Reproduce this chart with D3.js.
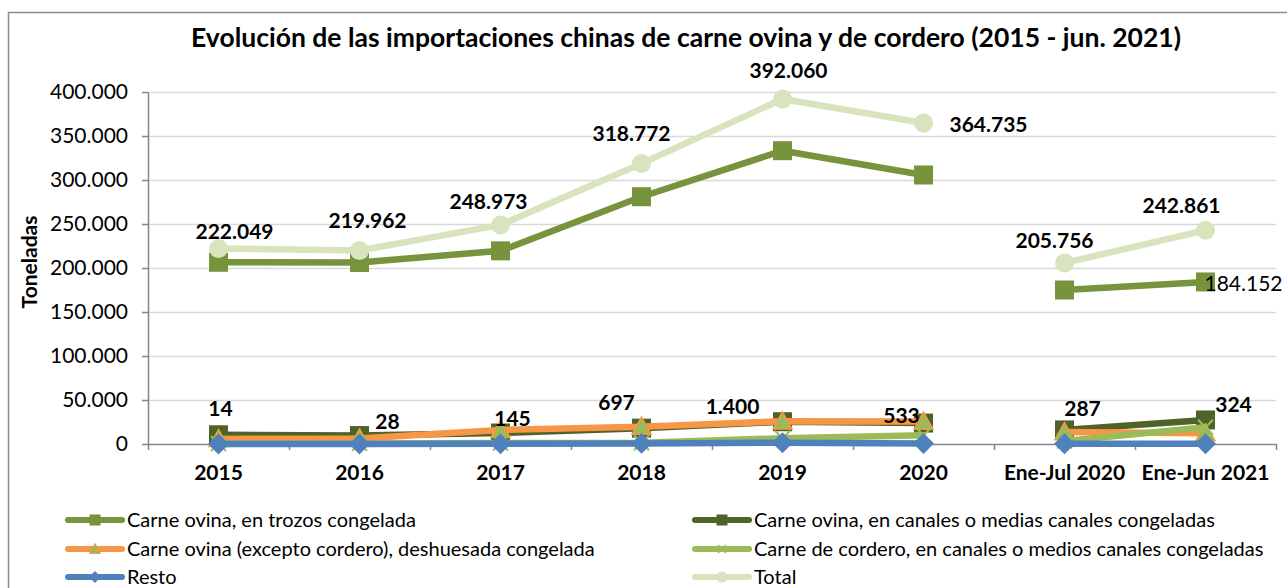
<!DOCTYPE html>
<html>
<head>
<meta charset="utf-8">
<script src="https://cdn.jsdelivr.net/npm/d3@7"></script>
<style>
  body { margin: 0; background: #ffffff; }
  svg { display: block; font-family: Lato, "Open Sans", sans-serif; }
</style>
</head>
<body>
<div id="chart"></div>
<script>
// Categories and series (toneladas)
const categories = ['2015', '2016', '2017', '2018', '2019', '2020', 'Ene-Jul 2020', 'Ene-Jun 2021'];
const segmentBreak = 6; // line is not joined between 2020 and Ene-Jul 2020

const trozos = [206500, 206300, 219500, 281000, 333300, 305700, 175000, 184152];
const canalesOvina = [10500, 9600, 12500, 18000, 25300, 23800, 16000, 27300];
const deshuesada = [5700, 6300, 16000, 19700, 25800, 25500, 13500, 12200];
const cordero = [600, 700, 1000, 1500, 6500, 10000, 3500, 19000];
const resto = [14, 28, 145, 697, 1400, 533, 287, 324];
const total = [222049, 219962, 248973, 318772, 392060, 364735, 205756, 242861];

const yTicks = [0, 50000, 100000, 150000, 200000, 250000, 300000, 350000, 400000];

// label placement relative to the point (px)
const totalLabelOffset = [[16, -17], [8, -30], [-12, -23], [-10, -30], [6, -28], [65, 2], [-10, -22], [-24, -25]];
const restoLabelOffset = [[2, -35], [28, -22], [12, -25], [-25, -41], [-50, -36], [-22, -28], [18, -35], [28, -39]];

const series = [
  { name: 'Carne ovina, en trozos congelada', values: trozos, color: '#77933C', marker: 'square', fill: '#77933C', stroke: null },
  { name: 'Carne ovina, en canales o medias canales congeladas', values: canalesOvina, color: '#4F6228', marker: 'square', fill: '#4F6228', stroke: null },
  { name: 'Carne ovina (excepto cordero), deshuesada congelada', values: deshuesada, color: '#F79646', marker: 'triangle', fill: '#9BBB59', stroke: '#F79646' },
  { name: 'Carne de cordero, en canales o medios canales congeladas', values: cordero, color: '#9BBB59', marker: 'x', fill: 'none', stroke: '#9BBB59' },
  { name: 'Resto', values: resto, color: '#4F81BD', marker: 'diamond', fill: '#4F81BD', stroke: null },
  { name: 'Total', values: total, color: '#D7E4BD', marker: 'circle', fill: '#D7E4BD', stroke: null }
];

const W = 1287, H = 588;
const plot = { left: 148, right: 1276, top: 92, bottom: 444 };
const fmt = d3.formatLocale({ decimal: ',', thousands: '.', grouping: [3], currency: ['', ''] }).format(',');

const svg = d3.select('#chart').append('svg')
  .attr('width', W)
  .attr('height', H);

// chart area border
svg.append('rect')
  .attr('x', 8.5).attr('y', 12.5)
  .attr('width', W + 10).attr('height', H + 10)
  .attr('fill', '#ffffff')
  .attr('stroke', '#8c8c8c')
  .attr('stroke-width', 1.5);

// Title
svg.append('text')
  .attr('x', 686)
  .attr('y', 47)
  .attr('text-anchor', 'middle')
  .attr('font-size', '26.5px')
  .attr('font-weight', 'bold')
  .attr('fill', '#000')
  .text('Evolución de las importaciones chinas de carne ovina y de cordero (2015 - jun. 2021)');

// Scales
const x = d3.scaleBand()
  .domain(categories)
  .range([plot.left, plot.right])
  .padding(0);
const cx = d => x(d) + x.bandwidth() / 2;

const y = d3.scaleLinear()
  .domain([0, 400000])
  .range([plot.bottom, plot.top]);

// Horizontal gridlines
svg.append('g')
  .attr('class', 'grid')
  .attr('transform', `translate(${plot.left},0)`)
  .call(d3.axisLeft(y)
    .tickValues(yTicks.slice(1))
    .tickSize(-(plot.right - plot.left))
    .tickFormat(''))
  .call(g => g.select('.domain').remove())
  .selectAll('line')
  .attr('stroke', '#d9d9d9')
  .attr('stroke-width', 1.5);

// Y axis
const yAxis = svg.append('g')
  .attr('class', 'y-axis')
  .attr('transform', `translate(${plot.left},0)`)
  .call(d3.axisLeft(y)
    .tickValues(yTicks)
    .tickSize(6)
    .tickSizeOuter(0)
    .tickPadding(14)
    .tickFormat(fmt));
yAxis.select('.domain').attr('stroke', '#868686').attr('stroke-width', 1.5);
yAxis.selectAll('.tick line').attr('stroke', '#868686').attr('stroke-width', 1.5);
yAxis.selectAll('.tick text')
  .attr('font-size', '21px')
  .attr('fill', '#000')
  .attr('font-family', 'Lato, sans-serif');

// Y axis title
svg.append('text')
  .attr('transform', 'translate(37,262) rotate(-90)')
  .attr('text-anchor', 'middle')
  .attr('font-size', '21px')
  .attr('font-weight', 'bold')
  .text('Toneladas');

// X axis: labels at category centres, ticks at category boundaries
const xIdx = d3.scaleLinear().domain([0, categories.length]).range([plot.left, plot.right]);
const xTicks = svg.append('g')
  .attr('transform', `translate(0,${plot.bottom})`)
  .call(d3.axisBottom(xIdx)
    .tickValues(d3.range(0, categories.length + 1))
    .tickSize(6)
    .tickSizeOuter(0)
    .tickFormat(''));
xTicks.select('.domain').attr('stroke', '#868686').attr('stroke-width', 1.5);
xTicks.selectAll('.tick line').attr('stroke', '#868686').attr('stroke-width', 1.5);

const xAxis = svg.append('g')
  .attr('transform', `translate(0,${plot.bottom})`)
  .call(d3.axisBottom(x).tickSize(0).tickPadding(21));
xAxis.select('.domain').remove();
xAxis.selectAll('.tick text')
  .attr('font-size', '21px')
  .attr('font-weight', 'bold')
  .attr('fill', '#000')
  .attr('font-family', 'Lato, sans-serif');

// Marker drawing
function drawMarker(g, type, s, fill, stroke, sw) {
  const h = s / 2;
  let p;
  if (type === 'square') {
    p = g.append('rect').attr('x', -h).attr('y', -h).attr('width', s).attr('height', s);
  } else if (type === 'circle') {
    p = g.append('circle').attr('r', h);
  } else if (type === 'diamond') {
    p = g.append('path').attr('d', `M0,${-h * 1.1}L${h * 1.1},0L0,${h * 1.1}L${-h * 1.1},0Z`);
  } else if (type === 'triangle') {
    p = g.append('path').attr('d', `M0,${-h}L${h},${h * 0.8}L${-h},${h * 0.8}Z`);
  } else if (type === 'x') {
    p = g.append('path').attr('d', `M${-h},${-h}L${h},${h}M${h},${-h}L${-h},${h}`);
  }
  p.attr('fill', fill || 'none');
  if (stroke) p.attr('stroke', stroke).attr('stroke-width', sw);
}

const line = d3.line()
  .x(d => d.x)
  .y(d => d.y);

const seriesG = svg.append('g').attr('class', 'series');
series.forEach(s => {
  const pts = s.values.map((v, i) => ({ x: cx(categories[i]), y: y(v) }));
  const g = seriesG.append('g');
  [pts.slice(0, segmentBreak), pts.slice(segmentBreak)].forEach(seg => {
    g.append('path')
      .attr('d', line(seg))
      .attr('fill', 'none')
      .attr('stroke', s.color)
      .attr('stroke-width', 6.5)
      .attr('stroke-linejoin', 'round');
  });
  pts.forEach(p => {
    const m = g.append('g').attr('transform', `translate(${p.x},${p.y})`);
    const size = s.marker === 'x' ? 15 : 19;
    drawMarker(m, s.marker, size, s.fill, s.stroke, s.marker === 'x' ? 2 : 1.5);
  });
});

// Data labels
const labels = svg.append('g')
  .attr('font-size', '21px')
  .attr('font-weight', 'bold')
  .attr('fill', '#000')
  .attr('text-anchor', 'middle');

total.forEach((v, i) => {
  labels.append('text')
    .attr('x', cx(categories[i]) + totalLabelOffset[i][0])
    .attr('y', y(v) + totalLabelOffset[i][1])
    .attr('dy', '0.35em')
    .text(fmt(v));
});

resto.forEach((v, i) => {
  labels.append('text')
    .attr('x', cx(categories[i]) + restoLabelOffset[i][0])
    .attr('y', y(v) + restoLabelOffset[i][1])
    .attr('dy', '0.35em')
    .text(fmt(v));
});

// single label on the trozos series (last point, regular weight)
const last = trozos.length - 1;
svg.append('text')
  .attr('x', cx(categories[last]) + 38)
  .attr('y', y(trozos[last]) + 2)
  .attr('dy', '0.35em')
  .attr('text-anchor', 'middle')
  .attr('font-size', '21px')
  .attr('fill', '#000')
  .text(fmt(trozos[last]));

// Legend
const legendRows = [520, 549, 577];
const legendCols = [68, 695];
const legend = svg.append('g').attr('class', 'legend');
series.forEach((s, i) => {
  const lx = legendCols[i % 2];
  const ly = legendRows[Math.floor(i / 2)];
  const item = legend.append('g').attr('transform', `translate(${lx},${ly})`);
  item.append('line')
    .attr('x1', 0).attr('x2', 54)
    .attr('stroke', s.color)
    .attr('stroke-width', 6)
    .attr('stroke-linecap', 'round');
  const m = item.append('g').attr('transform', 'translate(27,0)');
  drawMarker(m, s.marker, s.marker === 'x' ? 8 : 11, s.fill, s.stroke, s.marker === 'x' ? 1.5 : 1);
  item.append('text')
    .attr('x', 59)
    .attr('dy', '0.35em')
    .attr('font-size', '20px')
    .attr('fill', '#000')
    .text(s.name);
});
</script>
</body>
</html>
